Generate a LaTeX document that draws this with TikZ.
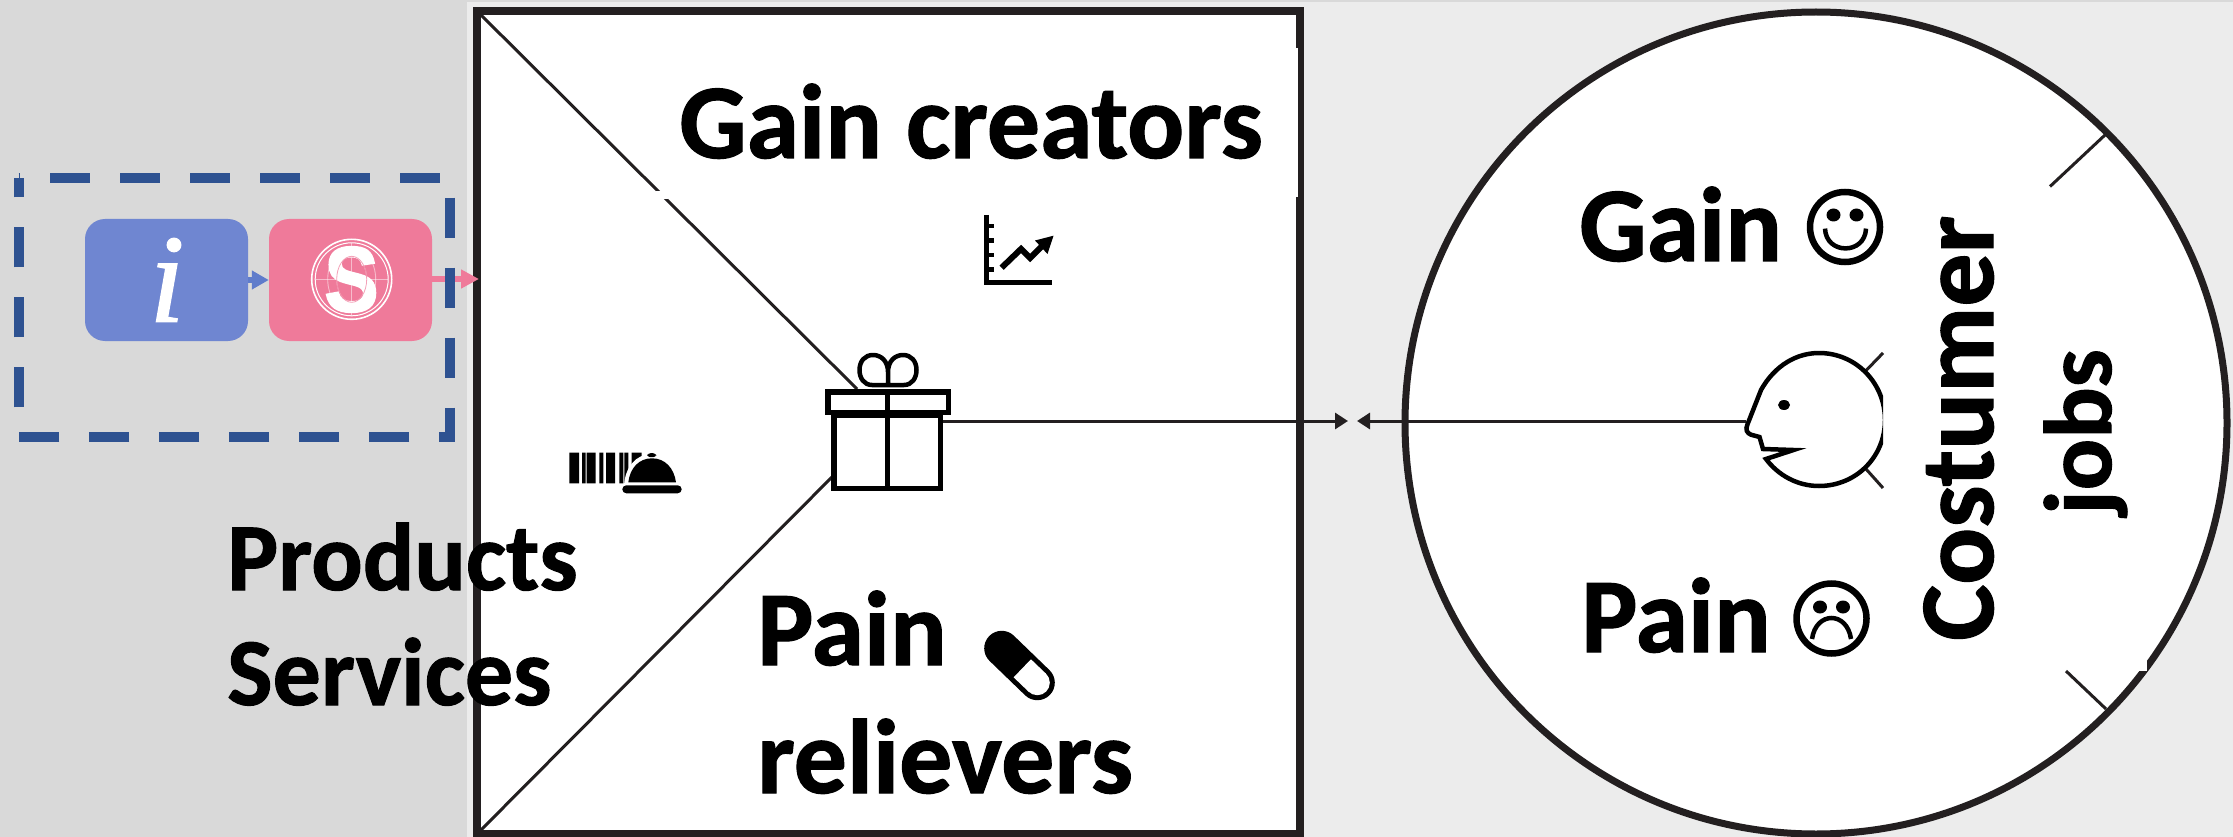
\documentclass[tikz,border=0pt]{standalone}
\usepackage{fontspec}
\usepackage{graphicx}
\usetikzlibrary{arrows.meta}
\setmainfont{Carlito}[BoldFeatures={FakeBold=1.1}]
\newfontfamily\sfont{Liberation Sans}[BoldFeatures={FakeBold=2.4}]
\newfontfamily\ifont{Liberation Serif}[ItalicFeatures={FakeBold=1.2}]
\definecolor{inkc}{HTML}{231F20}
\definecolor{greybg}{HTML}{D9D9D9}
\definecolor{lightbg}{HTML}{ECECEC}
\definecolor{bluebox}{HTML}{6F86D1}
\definecolor{bluearrow}{HTML}{5F7CCB}
\definecolor{pinkbox}{HTML}{EF7A9A}
\definecolor{dashc}{HTML}{2E5291}
\tikzset{
  bigtext/.style={inner sep=0pt,font=\fontsize{106}{110}\selectfont\bfseries,text=black},
  midtext/.style={inner sep=0pt,font=\fontsize{96}{100}\selectfont\bfseries,text=black},
  tilebox/.style={draw=none,rounded corners=20pt,minimum width=163pt,minimum height=122pt,inner sep=0pt},
  frame/.style={draw=inkc,line width=8pt,fill=white},
  thinline/.style={draw=inkc,line width=3pt},
  meetarrow/.style={thinline,-{Triangle[length=13pt,width=16pt]}},
  icon/.style={draw=black,line width=5.5pt,fill=none},
  facestroke/.style={draw=black,line width=6.5pt,fill=none},
  blot/.style={fill=white,draw=none},
}
\begin{document}
\begin{tikzpicture}[x=1pt,y=-1pt]
\useasboundingbox (0,0) rectangle (2233,837);
% backgrounds
\fill[lightbg] (0,0) rectangle (2233,837);
\fill[greybg] (0,0) rectangle (2233,2);
\fill[greybg] (0,0) rectangle (467,837);
% value map frame
\draw[frame] (477,11) rectangle (1300,834);
\fill[blot] (1295.5,48) rectangle (1298,197);
\coordinate (frameTL) at (480,14);
\coordinate (frameBL) at (480,831);
\coordinate (frameW) at (479,279);
\coordinate (giftTop) at (857,389);
\coordinate (giftLow) at (832,477);
\coordinate (giftR) at (943,421);
\coordinate (meetR) at (1348,421);
\coordinate (meetL) at (1357,421);
\coordinate (faceNose) at (1746,421);
\draw[thinline] (frameTL) -- (giftTop);
\fill[blot] (656,191) rectangle (668,199);
\draw[thinline] (frameBL) -- (giftLow);
% customer circle
\draw[draw=inkc,line width=7pt,fill=white] (1816,423) circle[radius=411];
\fill[blot] (2139,660) rectangle (2147,671);
\coordinate (tickA1) at (2105,135);
\coordinate (tickA2) at (2050,186.5);
\coordinate (tickB1) at (2106,709);
\coordinate (tickB2) at (2066,671);
\coordinate (tickC1) at (1866,370.6);
\coordinate (tickC2) at (1883,353);
\coordinate (tickD1) at (1866,469);
\coordinate (tickD2) at (1883,488);
\draw[thinline] (tickA1) -- (tickA2);
\draw[thinline] (tickB1) -- (tickB2);
\draw[thinline] (tickC1) -- (tickC2);
\draw[thinline] (tickD1) -- (tickD2);
% connectors meeting in the middle
\draw[meetarrow] (giftR) -- (meetR);
\draw[meetarrow] (faceNose) -- (meetL);
% tiles
\node[tilebox,fill=bluebox] (infotile) at (166.5,280) {};
\node[tilebox,fill=pinkbox] (servtile) at (350.5,280) {};
\node[inner sep=0pt,text=white,font=\ifont\itshape\fontsize{126}{126}\selectfont] (infoi) at (167,280) {i};
% service emblem
\draw[white,line width=1.6pt] (351.7,279.3) circle[radius=40];
\draw[white,line width=1pt] (351.7,279.3) circle[radius=36.5];
\begin{scope}[white,opacity=.5,line width=.9pt]
\draw (351.7,279.3) ellipse[x radius=24,y radius=32];
\draw (351.7,279.3) ellipse[x radius=15,y radius=23];
\draw (315,279.3) -- (388,279.3);
\draw (351.7,243) -- (351.7,316);
\end{scope}
\node[inner sep=0pt,text=white,font=\sfont\bfseries\fontsize{92}{92}\selectfont] (servs) at (351.5,279.5) {\scalebox{.88}[1]{S}};
\draw[pinkbox,line width=.8pt,opacity=.7] (351.7,279.3) ellipse[x radius=15,y radius=23];
% tile connectors
\draw[bluearrow,line width=5.5pt,-{Triangle[length=17pt,width=18pt]}] (infotile.east) -- (servtile.west);
\draw[pinkbox,line width=6pt,-{Triangle[length=18pt,width=18pt]}] (servtile.east |- 0,279) -- (frameW);
% dashed group
\draw[dashc,line width=10pt,dash pattern=on 40pt off 30pt,dash phase=38.4pt]
  (18.7,177.7) -- (450.3,177.7) -- (450.3,436.7) -- (18.7,436.7) -- cycle;
% gift icon
\begin{scope}[icon]
\draw (827.75,391.75) rectangle (948.25,412.25);
\draw (833.75,415) rectangle (940.25,488.25);
\draw (887.5,392) -- (887.5,487);
\end{scope}
\draw[black,line width=4.5pt,line join=round]
  (888,385) -- (872,385) .. controls (864,385) and (859.5,378) .. (859.5,370)
  .. controls (859.5,361) and (865,355) .. (873,355)
  .. controls (881,355) and (888,361) .. (888,372) -- (888,385)
  -- (904,385) .. controls (912,385) and (916.5,378) .. (916.5,370)
  .. controls (916.5,361) and (911,355) .. (903,355)
  .. controls (895,355) and (888,361) .. (888,372);
% chart icon
\draw[black,line width=4.6pt,line cap=butt] (986.5,215) -- (986.5,282.7) -- (1052,282.7);
\foreach \ty in {226,240.7,255,269.3} \draw[black,line width=4.5pt] (986.5,\ty) -- (993.5,\ty);
\draw[black,line width=6pt,line join=miter] (1001.6,267.7) -- (1021,249) -- (1030,258) -- (1043,245);
\fill[black] (1053.5,235.7) -- (1035,240.5) -- (1047.5,254) -- cycle;
% barcode and bell icon
\fill[black] (569.3,452.7) rectangle (579,483.3) (582,452.7) rectangle (585.7,483.3)
  (586.7,452.7) rectangle (595.7,483.3) (599.3,452.7) rectangle (603.3,483.3)
  (606,452.7) rectangle (615,483.3) (619.3,452.7) rectangle (623.3,483.3)
  (624.3,452.7) rectangle (628.3,483.3) (631.7,452.7) rectangle (641.7,483.3);
\fill[white] (624,486) .. controls (625,467) and (636,454) .. (652,454) .. controls (668,454) and (680,467) .. (680,486) -- cycle;
\fill[black] (628.3,482.3) .. controls (630,468) and (639,458.3) .. (652,458.3) .. controls (665,458.3) and (674,468) .. (676,482.3) -- cycle;
\fill[black,rounded corners=3pt] (646.7,457) -- (648,453) -- (655.5,453) -- (656.7,457) -- cycle;
\fill[black,rounded corners=4pt] (622.3,485.3) rectangle (681.7,493.3);
% pill icon
\coordinate (pillA) at (1001.7,648.3);
\coordinate (pillB) at (1037.3,682.7);
\coordinate (pillM) at (1022.3,668.3);
\draw[black,line width=35pt,line cap=round] (pillA) -- (pillB);
\draw[white,line width=25pt] (pillM) -- (pillB);
\fill[white] (pillB) circle[radius=12.5];
% face
\begin{scope}
\clip (1700,340) rectangle (1883,500);
\draw[draw=black,line width=4.5pt,fill=white,line join=miter]
  (1761,390) .. controls (1775,365) and (1797,353) .. (1819,353)
  .. controls (1856,353) and (1885,383) .. (1885,420)
  .. controls (1885,457) and (1856,486) .. (1819,486)
  .. controls (1797,486) and (1778,475) .. (1766,459)
  -- (1793.5,450) -- (1763,449) -- (1759.5,437) -- (1751,434.7)
  .. controls (1747,433) and (1745,430) .. (1747.6,424) -- cycle;
\end{scope}
\fill[black] (1784,405) ellipse[x radius=6,y radius=5];
% smiley
\draw[facestroke] (1845,227) circle[radius=35];
\fill[black] (1833.5,215) ellipse[x radius=7,y radius=6.5];
\fill[black] (1856.5,215) ellipse[x radius=7,y radius=6.5];
\draw[black,line width=4.5pt] (1825,228.6) .. controls (1826,255) and (1865,255) .. (1866,228.6);
% frowny
\draw[facestroke] (1831.5,618.5) circle[radius=35];
\fill[black] (1820,607) ellipse[x radius=7,y radius=6.5];
\fill[black] (1843,607) ellipse[x radius=7,y radius=6.5];
\draw[black,line width=4.5pt] (1812,639) .. controls (1816,611) and (1847,611) .. (1851,639);
% texts
\node[bigtext,anchor=base west] (gaincreators) at (679,158) {Gain creators};
\node[bigtext,anchor=base west] (gainlabel) at (1579,261) {Gain};
\node[bigtext,anchor=base west] (painlabel) at (1581,652) {Pain};
\node[bigtext,anchor=base west] (painrel) at (757,665) {Pain};
\node[bigtext,anchor=base west] (relievers) at (757,793) {relievers};
\node[midtext,anchor=base west] (products) at (227,590) {Products};
\node[midtext,anchor=base west] (services) at (227,705) {Services};
\node[bigtext,anchor=base west,rotate=90] (costumer) at (1993,641) {Costumer};
\node[midtext,anchor=base west,rotate=90] (jobs) at (2111,515) {jobs};
\end{tikzpicture}
\end{document}
